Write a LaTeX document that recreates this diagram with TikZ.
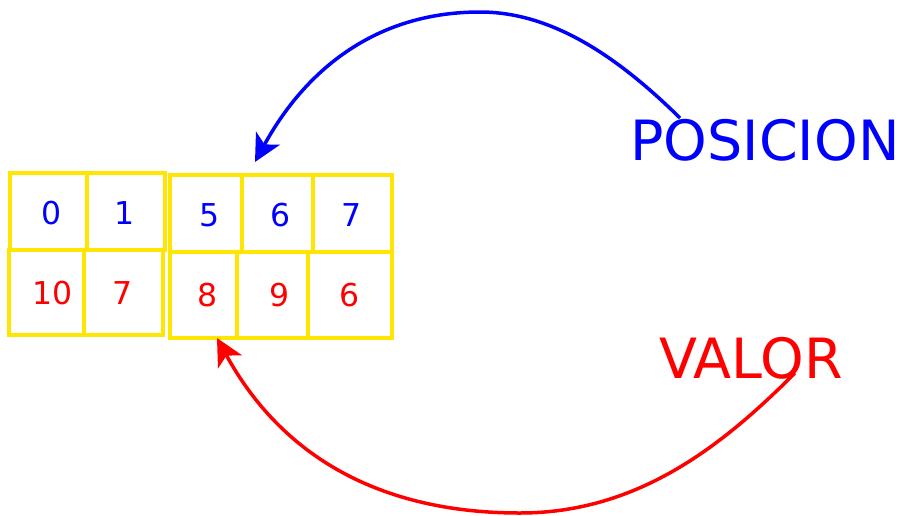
\documentclass[tikz,border=0pt]{standalone}
\usepackage{fontspec}
\setmainfont{DejaVu Sans}
\usetikzlibrary{arrows.meta}
\definecolor{cellyellow}{RGB}{255,230,0}
\definecolor{pblue}{RGB}{0,0,255}
\definecolor{vred}{RGB}{255,0,0}
\begin{document}
\begin{tikzpicture}[x=1pt,y=-1pt,
  cell/.style={draw=cellyellow,line width=3.2pt,inner sep=0pt,outer sep=0pt},
  posdigit/.style={text=pblue,font=\fontsize{31.5}{31.5}\selectfont,inner sep=0pt},
  valdigit/.style={text=vred,font=\fontsize{31.5}{31.5}\selectfont,inner sep=0pt},
  biglabel/.style={font=\fontsize{55.5}{55.5}\selectfont,inner sep=0pt,anchor=base},
  link/.style={line width=3.5pt,-{Stealth[length=27pt,width=27pt,inset=7pt]}}]
\useasboundingbox (0,0) rectangle (903,515);
% cells, top row
\node[cell,minimum width=77pt,minimum height=77pt] (c0) at (48.5,211.5) {};
\node[cell,minimum width=78pt,minimum height=77pt] (c1) at (126,211.5) {};
\node[cell,minimum width=72pt,minimum height=77pt] (c5) at (206,213.5) {};
\node[cell,minimum width=71pt,minimum height=77pt] (c6) at (277.5,213.5) {};
\node[cell,minimum width=79pt,minimum height=77pt] (c7) at (352.5,213.5) {};
% cells, bottom row
\node[cell,minimum width=75pt,minimum height=85pt] (d10) at (46.5,292.5) {};
\node[cell,minimum width=79pt,minimum height=85pt] (d7) at (123.5,292.5) {};
\node[cell,minimum width=67pt,minimum height=86pt] (d8) at (203.5,295) {};
\node[cell,minimum width=71pt,minimum height=86pt] (d9) at (272.5,295) {};
\node[cell,minimum width=84pt,minimum height=86pt] (d6) at (350,295) {};
% digits
\node[posdigit] (t0) at (52,213.5) {0};
\node[posdigit] (t1) at (125,213.5) {1};
\node[posdigit] (t5) at (210,215) {5};
\node[posdigit] (t6) at (281,215) {6};
\node[posdigit] (t7) at (352,215) {7};
\node[valdigit] (u10) at (53,293) {10};
\node[valdigit] (u7) at (123,293) {7};
\node[valdigit] (u8) at (208,295) {8};
\node[valdigit] (u9) at (280,295) {9};
\node[valdigit] (u6) at (350,295) {6};
% labels
\node[biglabel,text=pblue] (pos) at (765,160) {POSICION};
\node[biglabel,text=vred] (val) at (751,378) {VALOR};
% arrow ends
\coordinate (ps) at (680,118);
\coordinate (ptop) at (480,12);
\coordinate (pe) at (255,162);
\coordinate (vs) at (795,373);
\coordinate (vbot) at (520,513);
\coordinate (ve) at (217,338);
\draw[link,draw=pblue,color=pblue] (ps) .. controls (615,54) and (550,12) .. (ptop)
   .. controls (372,12) and (303,74) .. (pe);
\draw[link,draw=vred,color=vred] (vs) .. controls (725,443) and (640,513) .. (vbot)
   .. controls (370,513) and (277,448) .. (ve);
\end{tikzpicture}
\end{document}
